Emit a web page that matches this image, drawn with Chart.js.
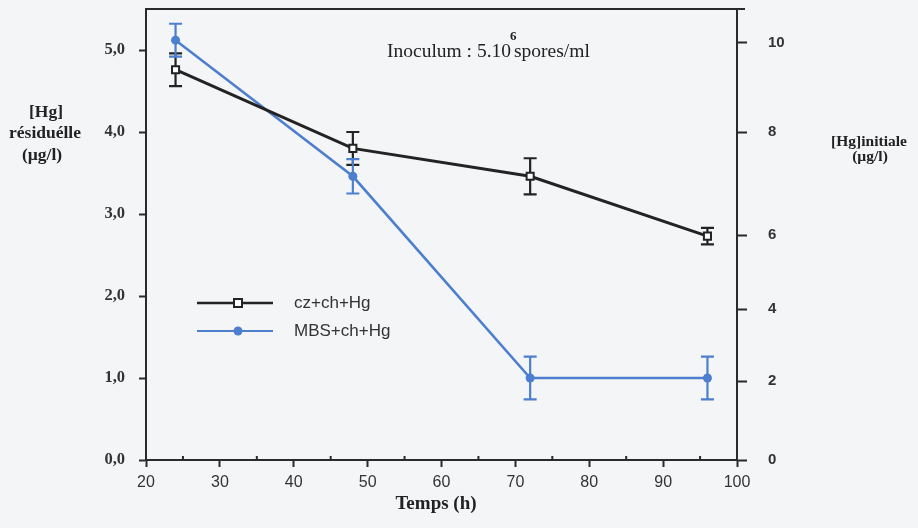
<!DOCTYPE html>
<html>
<head>
<meta charset="utf-8">
<script src="https://cdn.jsdelivr.net/npm/chart.js@4.4.1/dist/chart.umd.min.js"></script>
<style>
  html, body { margin: 0; padding: 0; background: #f4f5f7; }
  #wrap { width: 918px; height: 528px; position: relative; }
</style>
</head>
<body>
<div id="wrap"><canvas id="c" width="918" height="528"></canvas></div>
<script>
// ---- data ----
const times = [24, 48, 72, 96];
const czValues = [4.76, 3.80, 3.46, 2.73];
const czErrors = [0.20, 0.20, 0.22, 0.10];
const mbsValues = [5.12, 3.46, 1.00, 1.00];
const mbsErrors = [0.20, 0.21, 0.26, 0.26];
const seriesLabels = ['cz+ch+Hg', 'MBS+ch+Hg'];
const leftTickValues = [0, 1, 2, 3, 4, 5];
const rightTickLabels = ['0', '2', '4', '6', '8', '10'];
const rightTickValues = [0, 0.96, 1.84, 2.74, 4.00, 5.09]; // where each right label sits on the left scale
const xTickValues = [20, 30, 40, 50, 60, 70, 80, 90, 100];
const xMinorTickValues = [25, 35, 45, 55, 65, 75, 85, 95];
const xTitle = 'Temps (h)';
const leftTitle = ['[Hg]', 'résiduélle', '(µg/l)'];
const rightTitle = ['[Hg]initiale', '(µg/l)'];
const noteMain = 'Inoculum : 5.10';
const noteExp = '6';
const noteTail = 'spores/ml';

const BLACK = '#232323';
const BLUE = '#4d7fcf';
const AXIS = '#2a2a2a';

function noPad(s) { s.paddingTop = 0; s.paddingBottom = 0; s.paddingLeft = 0; s.paddingRight = 0; }

const errorBars = {
  id: 'errorBars',
  beforeDatasetsDraw(chart) {
    const ctx = chart.ctx;
    const y = chart.scales.y;
    chart.data.datasets.forEach((ds, di) => {
      const meta = chart.getDatasetMeta(di);
      ctx.save();
      ctx.strokeStyle = ds.borderColor;
      ctx.lineWidth = 2.2;
      meta.data.forEach((pt, i) => {
        const v = ds.data[i].y, e = ds.errors[i];
        const yt = y.getPixelForValue(v + e), yb = y.getPixelForValue(v - e);
        const x = pt.x, cw = 6.5;
        ctx.beginPath();
        ctx.moveTo(x, yt); ctx.lineTo(x, yb);
        ctx.moveTo(x - cw, yt); ctx.lineTo(x + cw, yt);
        ctx.moveTo(x - cw, yb); ctx.lineTo(x + cw, yb);
        ctx.stroke();
      });
      ctx.restore();
    });
  }
};

const decorations = {
  id: 'decorations',
  afterDraw(chart) {
    const ctx = chart.ctx;
    const a = chart.chartArea;
    const xs = chart.scales.x;
    ctx.save();
    // top frame line
    ctx.strokeStyle = AXIS;
    ctx.lineWidth = 2;
    ctx.beginPath();
    ctx.moveTo(a.left, a.top); ctx.lineTo(a.right + 8, a.top);
    ctx.stroke();

    // minor x ticks (short, inside)
    ctx.beginPath();
    xMinorTickValues.forEach(v => {
      const px = xs.getPixelForValue(v);
      ctx.moveTo(px, a.bottom); ctx.lineTo(px, a.bottom - 4);
    });
    ctx.stroke();

    // legend
    const legY = [303, 331];
    chart.data.datasets.forEach((ds, i) => {
      const yy = legY[i];
      ctx.strokeStyle = ds.borderColor;
      ctx.lineWidth = i === 0 ? 2.5 : 2.2;
      ctx.beginPath(); ctx.moveTo(197, yy); ctx.lineTo(273, yy); ctx.stroke();
      if (i === 0) {
        ctx.fillStyle = '#fff';
        ctx.lineWidth = 2;
        ctx.fillRect(234, yy - 4, 8, 8);
        ctx.strokeRect(234, yy - 4, 8, 8);
      } else {
        ctx.fillStyle = ds.borderColor;
        ctx.beginPath(); ctx.arc(238, yy, 4.5, 0, Math.PI * 2); ctx.fill();
      }
      ctx.fillStyle = '#333';
      ctx.font = '17px "Liberation Sans", Arial, sans-serif';
      ctx.textAlign = 'left';
      ctx.textBaseline = 'middle';
      ctx.fillText(ds.label, 294, yy);
    });

    // annotation
    ctx.fillStyle = '#222';
    ctx.textBaseline = 'alphabetic';
    ctx.textAlign = 'left';
    ctx.font = '19.5px "Liberation Serif", "Times New Roman", serif';
    ctx.fillText(noteMain, 387, 57);
    const w = ctx.measureText(noteMain).width;
    ctx.font = 'bold 13px "Liberation Serif", serif';
    ctx.fillText(noteExp, 387 + w - 1, 40);
    ctx.font = '19.5px "Liberation Serif", "Times New Roman", serif';
    ctx.fillText(noteTail, 387 + w + 3, 57);

    // left title
    ctx.font = 'bold 17.5px "Liberation Serif", "Times New Roman", serif';
    ctx.textAlign = 'center';
    ctx.textBaseline = 'middle';
    const lx = [46, 45, 42];
    const ly = [112, 133, 155];
    leftTitle.forEach((t, i) => ctx.fillText(t, lx[i], ly[i]));

    // right title
    ctx.font = 'bold 15.5px "Liberation Serif", "Times New Roman", serif';
    const rx = [869, 870];
    const ry = [142, 157];
    rightTitle.forEach((t, i) => ctx.fillText(t, rx[i], ry[i]));

    // x title
    ctx.font = 'bold 19px "Liberation Serif", "Times New Roman", serif';
    ctx.fillText(xTitle, 436, 504);
    ctx.restore();
  }
};

new Chart(document.getElementById('c'), {
  type: 'line',
  data: {
    datasets: [
      {
        label: seriesLabels[0],
        data: times.map((t, i) => ({ x: t, y: czValues[i] })),
        errors: czErrors,
        borderColor: BLACK,
        borderWidth: 3,
        pointStyle: 'rect',
        pointRadius: 5,
        pointBorderWidth: 2,
        pointBackgroundColor: '#fff',
        pointBorderColor: BLACK,
        tension: 0,
        clip: false
      },
      {
        label: seriesLabels[1],
        data: times.map((t, i) => ({ x: t, y: mbsValues[i] })),
        errors: mbsErrors,
        borderColor: BLUE,
        borderWidth: 2.6,
        pointStyle: 'circle',
        pointRadius: 4.5,
        pointBorderWidth: 0,
        pointBackgroundColor: BLUE,
        tension: 0,
        clip: false
      }
    ]
  },
  plugins: [errorBars, decorations],
  options: {
    responsive: false,
    animation: false,
    events: [],
    layout: { padding: { top: 9, left: 0, right: 0, bottom: 0 } },
    plugins: { legend: { display: false }, tooltip: { enabled: false } },
    scales: {
      x: {
        type: 'linear',
        min: 20, max: 100,
        afterBuildTicks: s => { s.ticks = xTickValues.map(v => ({ value: v })); },
        afterFit: s => { s.height = 68; noPad(s); },
        ticks: {
          autoSkip: false,
          maxRotation: 0,
          padding: 6,
          color: '#333',
          font: { family: '"Liberation Sans", Arial, sans-serif', size: 16 },
          callback: v => String(v)
        },
        grid: { drawOnChartArea: false, drawTicks: true, tickLength: 7, tickWidth: 2, color: AXIS },
        border: { display: true, color: AXIS, width: 2 }
      },
      y: {
        type: 'linear',
        position: 'left',
        min: 0, max: 5.5,
        afterBuildTicks: s => { s.ticks = leftTickValues.map(v => ({ value: v })); },
        afterFit: s => { s.width = 146; noPad(s); },
        ticks: {
          padding: 14,
          color: '#333',
          font: { family: '"Liberation Serif", "Times New Roman", serif', size: 16.5, weight: 'bold' },
          callback: v => v.toFixed(1).replace('.', ',')
        },
        grid: { drawOnChartArea: false, drawTicks: true, tickLength: 7, tickWidth: 2, color: AXIS },
        border: { display: true, color: AXIS, width: 2 }
      },
      y2: {
        type: 'linear',
        position: 'right',
        min: 0, max: 5.5,
        afterBuildTicks: s => { s.ticks = rightTickValues.map(v => ({ value: v })); },
        afterFit: s => { s.width = 181; noPad(s); },
        ticks: {
          padding: 21,
          color: '#333',
          font: { family: '"Liberation Sans", Arial, sans-serif', size: 15, weight: 'bold' },
          callback: (v, i) => rightTickLabels[i]
        },
        grid: { drawOnChartArea: false, drawTicks: true, tickLength: 10, tickWidth: 2, color: AXIS },
        border: { display: true, color: AXIS, width: 2 }
      }
    }
  }
});
</script>
</body>
</html>
